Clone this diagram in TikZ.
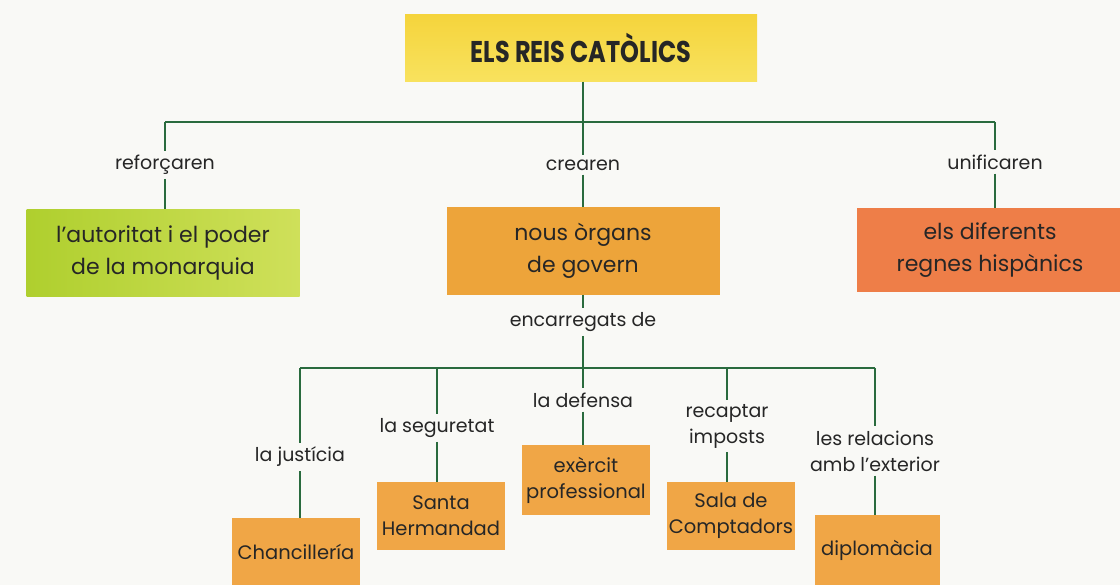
\documentclass[tikz,border=0pt]{standalone}
\usepackage{fontspec}
\setmainfont{Poppins}
\newcommand\myapos{{\char"27}}
\definecolor{bg}{HTML}{F9F9F6}
\definecolor{ln}{HTML}{2A6B3E}
\definecolor{topy}{HTML}{F5D43C}
\definecolor{topy2}{HTML}{F8E25E}
\definecolor{grnL}{HTML}{AFCF2E}
\definecolor{grnR}{HTML}{CFE05A}
\definecolor{org}{HTML}{EDA43A}
\definecolor{red}{HTML}{EE7E48}
\definecolor{sorg}{HTML}{F0A646}
\tikzset{
  conn/.style={draw=ln, line width=2.4pt},
  bigbox/.style={inner sep=0pt, align=center, font=\fontsize{22}{32}\selectfont, text=black!85},
  smallbox/.style={fill=sorg, minimum width=128pt, minimum height=68pt, inner sep=0pt, align=center, font=\fontsize{19.5}{26}\selectfont, text=black!85},
  lab/.style={inner sep=4pt, align=center, font=\fontsize{19}{26}\selectfont, text=black!85},
}
\begin{document}
\begin{tikzpicture}[x=1pt,y=-1pt]
\useasboundingbox (0,0) rectangle (1120,585);
\fill[bg] (0,0) rectangle (1120,585);
% top
\node[bigbox, top color=topy, bottom color=topy2, minimum width=352pt, minimum height=67pt] (top) at (581,48) {\scalebox{0.8}[1]{\bfseries\fontsize{30}{32}\selectfont ELS REIS CATÒLICS}};
\coordinate (bar) at (583,122);
\coordinate (bl) at (165,122);
\coordinate (br) at (995,122);
\draw[conn] (top.south -| bar) -- (bar);
\draw[conn] (bl) -- (br);
% level 1 labels
\node[lab] (l1) at (165,165) {reforçaren};
\node[lab] (l2) at (583,165) {crearen};
\node[lab] (l3) at (995,162) {unificaren};
% level 1 boxes
\node[bigbox, left color=grnL, right color=grnR, minimum width=273pt, minimum height=87pt] (b1) at (163,253) {l\myapos autoritat i el poder\\de la monarquia};
\node[bigbox, fill=org, minimum width=273pt, minimum height=88pt] (b2) at (583,251) {nous òrgans\\de govern};
\node[bigbox, fill=red, minimum width=266pt, minimum height=84pt] (b3) at (990,250) {els diferents\\regnes hispànics};
\draw[conn] (bl) -- (l1.north);
\draw[conn] (l1.south) -- (l1.south |- b1.north);
\draw[conn] (bar) -- (l2.north);
\draw[conn] (l2.south) -- (b2.north);
\draw[conn] (br) -- (l3.north);
\draw[conn] (l3.south) -- (l3.south |- b3.north);
% encarregats
\node[lab] (enc) at (583,322) {encarregats de};
\coordinate (bar2) at (583,368);
\coordinate (c1) at (300,368);
\coordinate (c2) at (437,368);
\coordinate (c4) at (727,368);
\coordinate (c5) at (875,368);
\draw[conn] (b2.south) -- (enc.north);
\draw[conn] (enc.south) -- (bar2);
\draw[conn] (c1) -- (c5);
% level 2
\node[lab] (m1) at (300,457) {la justícia};
\node[lab] (m2) at (437,428) {la seguretat};
\node[lab] (m3) at (583,400) {la defensa};
\node[lab] (m4) at (727,426) {recaptar\\imposts};
\node[lab] (m5) at (875,451) {les relacions\\amb l\myapos exterior};
\node[smallbox] (s1) at (296,552) {Chancillería};
\node[smallbox] (s2) at (441,516) {Santa\\Hermandad};
\node[smallbox, minimum height=70pt] (s3) at (586,480) {exèrcit\\professional};
\node[smallbox] (s4) at (731,516) {Sala de\\Comptadors};
\node[smallbox, minimum width=125pt, minimum height=70pt] (s5) at (877,550) {diplomàcia};
\draw[conn] (c1) -- (m1.north);
\draw[conn] (m1.south) -- (m1.south |- s1.north);
\draw[conn] (c2) -- (m2.north);
\draw[conn] (m2.south) -- (m2.south |- s2.north);
\draw[conn] (bar2) -- (m3.north);
\draw[conn] (m3.south) -- (m3.south |- s3.north);
\draw[conn] (c4) -- (m4.north);
\draw[conn] (m4.south) -- (m4.south |- s4.north);
\draw[conn] (c5) -- (m5.north);
\draw[conn] (m5.south) -- (m5.south |- s5.north);
\end{tikzpicture}
\end{document}
